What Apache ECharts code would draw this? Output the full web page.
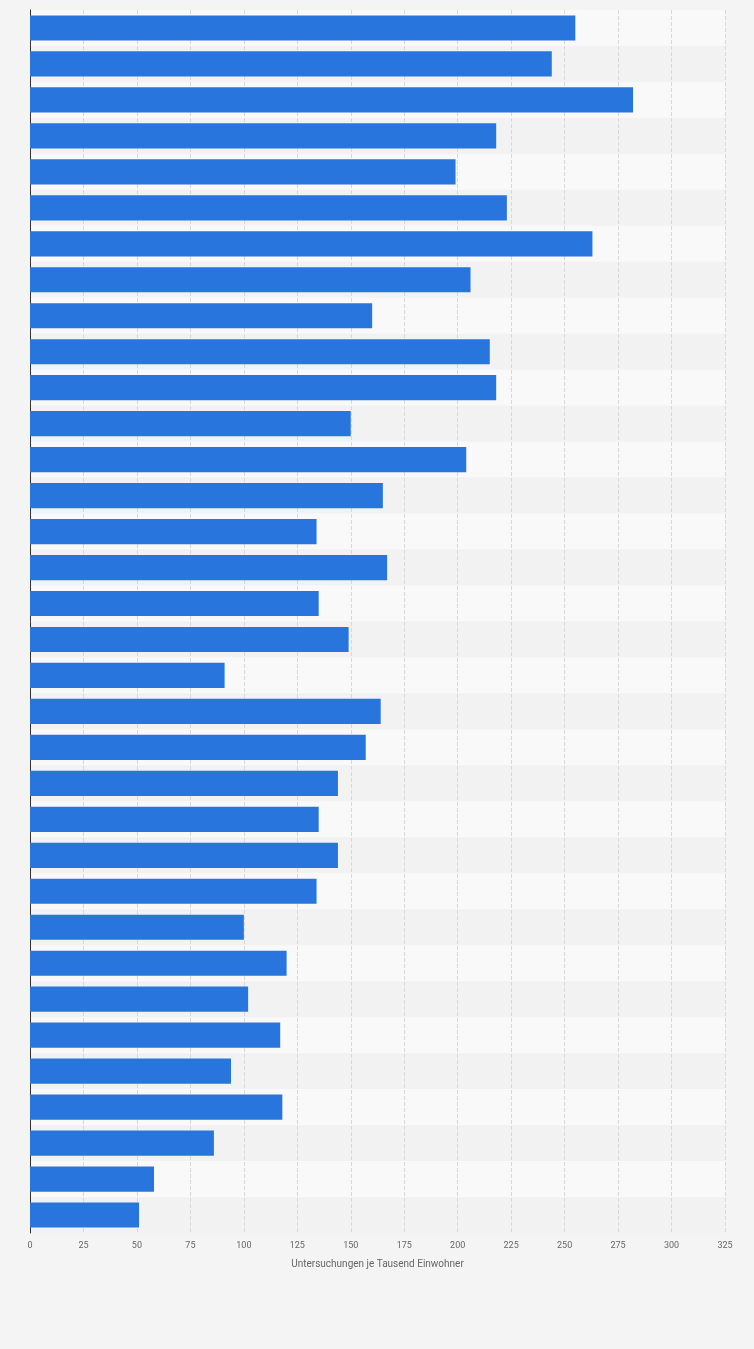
<!DOCTYPE html>
<html><head><meta charset="utf-8">
<script src="https://cdn.jsdelivr.net/npm/echarts@6/dist/echarts.min.js"></script>
<style>html,body{margin:0;padding:0;background:#f4f4f4}#c{width:754px;height:1349px}</style>
</head><body><div id="c"></div>
<script>
const categories = Array.from({length:34},(_,i)=>String(i+1));
const values = [255,244,282,218,199,223,263,206,160,215,218,150,204,165,134,167,135,149,91,164,157,144,135,144,134,100,120,102,117,94,118,86,58,51];
const tickLabels = [0,25,50,75,100,125,150,175,200,225,250,275,300,325];
const chart = echarts.init(document.getElementById('c'));
chart.setOption({
  backgroundColor:'#f4f4f4',
  grid:{left:30,right:29,top:10,bottom:116},
  xAxis:{type:'value',min:0,max:325,interval:25,
    name:'Untersuchungen je Tausend Einwohner',nameLocation:'middle',nameGap:26,
    nameTextStyle:{color:'#666',fontSize:10,fontFamily:'Roboto'},
    axisLabel:{color:'#666',fontSize:9,fontFamily:'Roboto'},
    axisLine:{show:false},axisTick:{show:false},
    splitLine:{lineStyle:{color:'#d8d8d8',type:'dashed'}}},
  yAxis:{type:'category',data:categories,inverse:true,
    axisLabel:{show:false},axisTick:{show:false},
    axisLine:{lineStyle:{color:'#333'}},
    splitArea:{show:true,areaStyle:{color:['#f9f9f9','#f2f2f2']}}},
  series:[{type:'bar',data:values,barCategoryGap:'30%',itemStyle:{color:'#2876dd'}}]
});
</script></body></html>
